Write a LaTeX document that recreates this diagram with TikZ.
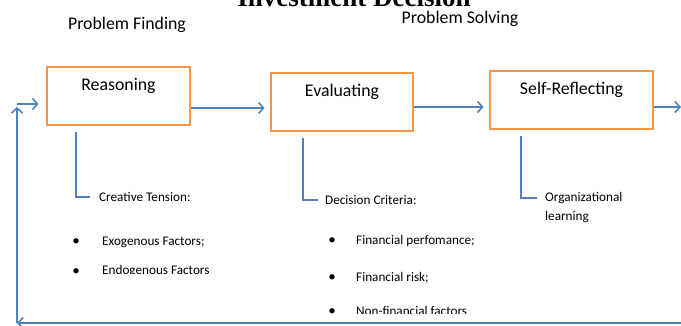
\documentclass[tikz,border=0pt]{standalone}
\usepackage{fontspec}
\setmainfont{Carlito}
\newfontfamily\titlefont{Liberation Serif}
\usetikzlibrary{arrows.meta}

\definecolor{boxorange}{HTML}{F79646}
\definecolor{flowblue}{HTML}{4F81BD}

\tikzset{
  stage/.style={draw=boxorange, line width=2.8pt, inner sep=0pt, text height=24pt, text depth=34pt, font=\fontsize{17.8}{20}\selectfont},
  flow/.style={draw=flowblue, line width=1.6pt, -{Straight Barb[length=5pt,width=11pt]}},
  sub/.style={draw=flowblue, line width=1.6pt},
  note/.style={anchor=west, inner sep=0pt, font=\fontsize{13.2}{15}\selectfont},
  dot/.style={inner sep=0pt, font=\fontsize{15}{16}\selectfont}
}

\begin{document}
\begin{tikzpicture}[x=1pt, y=-1pt]
  \useasboundingbox (0,0) rectangle (681,326);

  % title and phases
  \node [anchor=base, font=\titlefont\bfseries\fontsize{27}{30}\selectfont] (title) at (354,7) {Investment Decision};
  \node [font=\fontsize{17.8}{20}\selectfont] (find) at (127,25) {Problem Finding};
  \node [font=\fontsize{17.8}{20}\selectfont] (solve) at (460,19) {Problem Solving};

  % the three stages
  \node [stage, minimum width=143pt] (reason) at (118.5,96) {Reasoning};
  \node [stage, minimum width=142pt] (eval) at (342,102) {Evaluating};
  \node [stage, minimum width=163pt] (self) at (571.5,100) {Self-Reflecting};

  \coordinate (exit) at (681,107);
  \coordinate (loopR) at (681,323);
  \coordinate (loopBL) at (17,323);
  \coordinate (loopTL) at (17,104);

  \draw[flow, shorten >=5pt] (reason.east |- 0,108) -- (eval.west |- 0,108);
  \draw[flow, shorten >=5pt] (eval.east |- 0,107) -- (self.west |- 0,107);
  \draw[flow] (self.east |- 0,107) -- (exit);

  % feedback loop
  \draw[flow] (loopR) -- (loopBL);
  \draw[flow, shorten >=3pt] (loopBL) -- (loopTL);
  \draw[flow, shorten >=7pt] (loopTL) -- (reason.west |- loopTL);

  % notes under the stages
  \node [note] (tension) at (99,197) {Creative Tension:};
  \node [note] (crit) at (325,200) {Decision Criteria:};
  \node [note] (org) at (545,198) {Organizational};
  \node [note] (learn) at (545,217) {learning};

  \draw[sub, shorten <=6pt, shorten >=9pt] (reason.south -| 76,0) |- (tension.west);
  \draw[sub, shorten <=6pt, shorten >=7pt] (eval.south -| 303,0) |- (crit.west);
  \draw[sub, shorten <=6pt, shorten >=8pt] (self.south -| 521,0) |- (org.west);

  \node [dot] (b1) at (76,242) {\textbullet};
  \node [note] (exo) at (102,242) {Exogenous Factors;};
  \node [dot] (b3) at (332,241) {\textbullet};
  \node [note] (perf) at (356,241) {Financial perfomance;};
  \node [dot] (b4) at (332,278) {\textbullet};
  \node [note] (risk) at (356,278) {Financial risk;};

  % lines cut off in the source
  \begin{scope}
    \clip (0,0) rectangle (300,274);
    \node [dot] (b2) at (76,272) {\textbullet};
    \node [note] (endo) at (102,271) {Endogenous Factors};
  \end{scope}
  \begin{scope}
    \clip (300,0) rectangle (600,313);
    \node [dot] (b5) at (332,312) {\textbullet};
    \node [note] (nonfin) at (356,311) {Non-financial factors};
  \end{scope}
\end{tikzpicture}
\end{document}
